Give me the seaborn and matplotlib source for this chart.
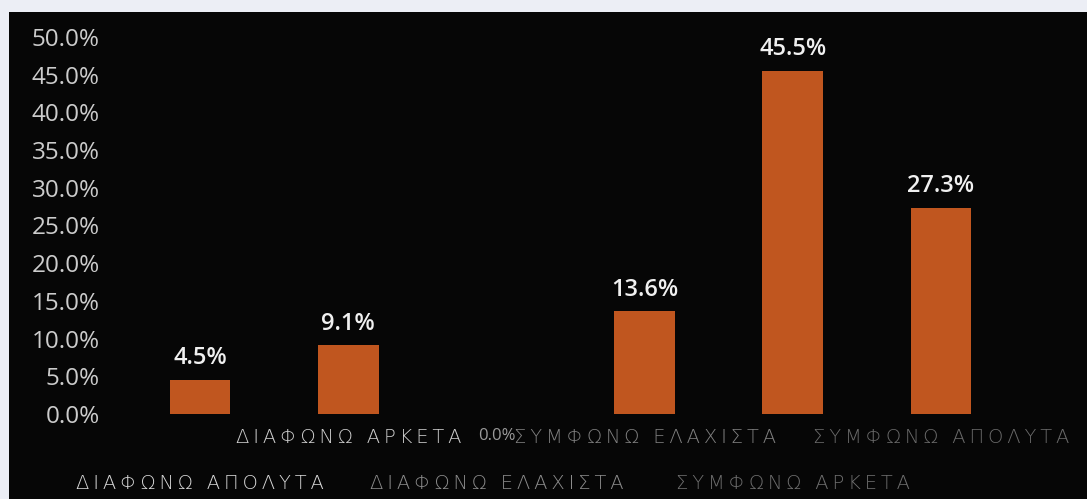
import matplotlib
matplotlib.use("Agg")
import matplotlib.pyplot as plt
from matplotlib.patches import Rectangle
from matplotlib.ticker import PercentFormatter
import seaborn as sns
import pandas as pd

categories = ["ΔΙΑΦΩΝΩ ΑΠΟΛΥΤΑ", "ΔΙΑΦΩΝΩ ΑΡΚΕΤΑ", "ΔΙΑΦΩΝΩ ΕΛΑΧΙΣΤΑ",
              "ΣΥΜΦΩΝΩ ΕΛΑΧΙΣΤΑ", "ΣΥΜΦΩΝΩ ΑΡΚΕΤΑ", "ΣΥΜΦΩΝΩ ΑΠΟΛΥΤΑ"]
shares = [4.5, 9.1, 0.0, 13.6, 45.5, 27.3]
y_ticks = [0, 5, 10, 15, 20, 25, 30, 35, 40, 45, 50]

df = pd.DataFrame({"category": categories, "share": shares})

sns.set_theme(style="white")
plt.rcParams["font.family"] = ["Open Sans", "DejaVu Sans"]

fig = plt.figure(figsize=(10.87, 4.99), dpi=100, facecolor="#eceef5")
# dark panel behind the chart
fig.patches.append(Rectangle((9 / 1087, 0), 1 - 9 / 1087, 1 - 12 / 499,
                             transform=fig.transFigure, facecolor="#060606",
                             edgecolor="none", zorder=-5))

ax = fig.add_axes([126 / 1087, 85 / 499, 889 / 1087, 377 / 499])
ax.set_facecolor("none")

sns.barplot(data=df, x="category", y="share", color="#c0561f", width=0.41,
            saturation=1, ax=ax, edgecolor="none")

ax.set_xlim(-0.5, len(categories) - 0.5)
ax.set_ylim(0, 50)
ax.set_yticks(y_ticks)
ax.yaxis.set_major_formatter(PercentFormatter(decimals=1))
ax.tick_params(axis="y", length=0, pad=19, labelsize=17.5, labelcolor="#cccccc")
ax.tick_params(axis="x", length=0, labelsize=14)
ax.set_xlabel("")
ax.set_ylabel("")
for s in ax.spines.values():
    s.set_visible(False)


def spaced(text):
    # letter-spaced caption, as in the category axis style
    return "\u2009".join(text)


# staggered category labels: alternate between two rows
label_colors = ["#d8d8d8", "#d0d0d0", "#8c8c8c", "#808080", "#6e6e6e", "#6a6a6a"]
ax.set_xticks(range(len(categories)))
ax.set_xticklabels([spaced(c) for c in categories])
for i, (tick, lab) in enumerate(zip(ax.xaxis.get_major_ticks(), ax.get_xticklabels())):
    tick.set_pad(43 if i % 2 == 0 else 10)
    lab.set_color(label_colors[i])
    lab.set_fontfamily(["DejaVu Sans"])
    lab.set_fontweight("light")

# value labels above each bar
for i, v in enumerate(shares):
    if v > 0:
        ax.annotate(f"{v:.1f}%", (i, v), xytext=(0, 7), textcoords="offset points",
                    ha="center", va="bottom", fontsize=17, fontweight="semibold",
                    color="#f0f0f0")
    else:
        ax.annotate(f"{v:.1f}%", (i, v), xytext=(0, -10), textcoords="offset points",
                    ha="center", va="top", fontsize=12, color="#9a9a9a")

fig.savefig("out.png", dpi=100, facecolor=fig.get_facecolor())
